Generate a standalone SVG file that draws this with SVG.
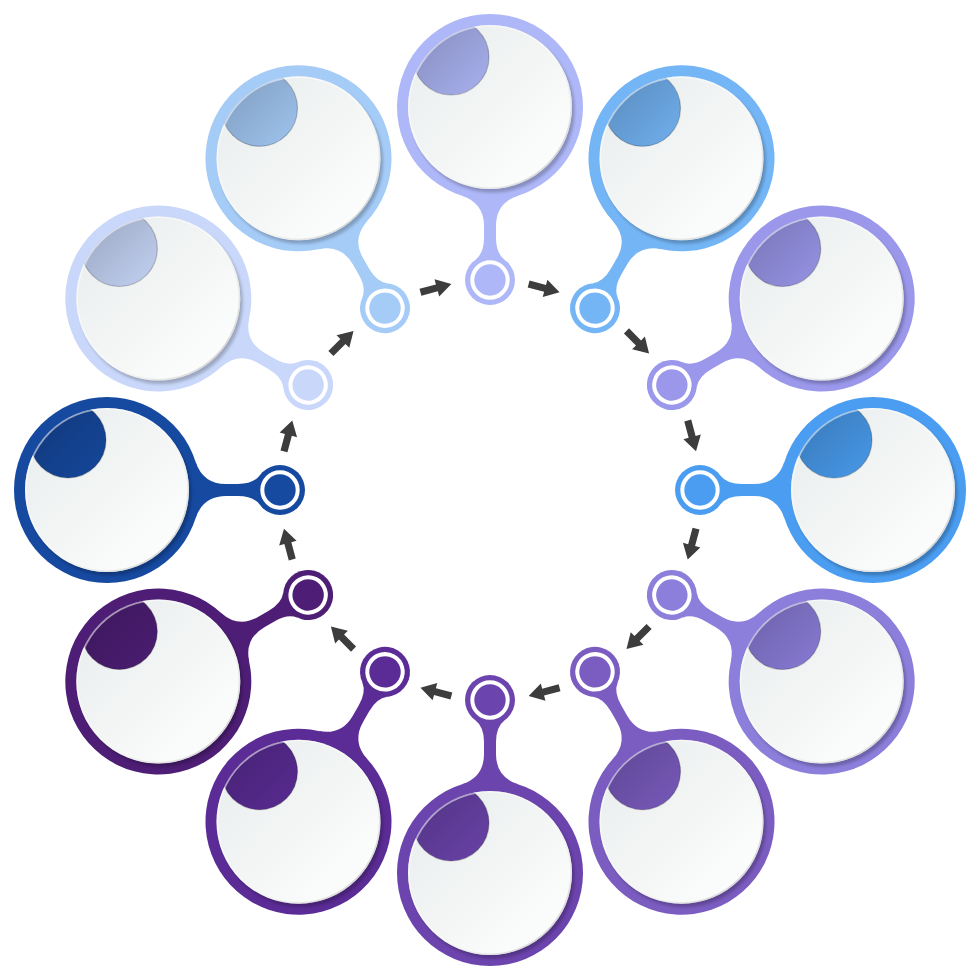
<svg xmlns="http://www.w3.org/2000/svg" xmlns:xlink="http://www.w3.org/1999/xlink" width="980" height="980" viewBox="0 0 980 980">
<style>
  .arrow { fill: #3d3d3d; }
  .ring-white { fill: none; stroke: #ffffff; stroke-width: 4; }
  .face { fill: url(#wg); }
  .shadow { fill: #000000; opacity: 0.22; filter: url(#blur); }
  .shade { fill: url(#capShade); stroke: #000000; stroke-opacity: 0.22; stroke-width: 1.2; }
  .rim { fill: none; stroke: url(#rim); stroke-width: 1.6; }
</style>
<defs>
  <linearGradient id="wg" x1="0" y1="0" x2="1" y2="1">
    <stop offset="0" stop-color="#e8ecec"/>
    <stop offset="1" stop-color="#ffffff"/>
  </linearGradient>
  <linearGradient id="capShade" x1="0" y1="0" x2="1" y2="1">
    <stop offset="0" stop-color="#000000" stop-opacity="0.25"/>
    <stop offset="1" stop-color="#000000" stop-opacity="0.03"/>
  </linearGradient>
  <linearGradient id="rim" x1="0" y1="0" x2="1" y2="1">
    <stop offset="0" stop-color="#ffffff" stop-opacity="0.6"/>
    <stop offset="0.5" stop-color="#ffffff" stop-opacity="0.4"/>
    <stop offset="1" stop-color="#b9b9b9" stop-opacity="0.9"/>
  </linearGradient>
  <filter id="blur" x="-20%" y="-20%" width="140%" height="140%">
    <feGaussianBlur stdDeviation="1.6"/>
  </filter>
  <clipPath id="cc">
    <circle cx="0" cy="0" r="82"/>
  </clipPath>
  <g id="body">
    <circle cx="0" cy="-383" r="93"/>
    <path d="M -28,-294.3 Q -6,-287 -6,-264 L -6,-252 Q -6,-237 -14.3,-230.5 L 14.3,-230.5 Q 6,-237 6,-252 L 6,-264 Q 6,-287 28,-294.3 Z"/>
    <circle cx="0" cy="-210" r="25"/>
    <circle class="ring-white" cx="0" cy="-210" r="17.7"/>
  </g>
  <g id="face">
    <circle class="shadow" cx="2.5" cy="3.5" r="82"/>
    <circle class="face" cx="0" cy="0" r="82"/>
  </g>
  <path id="arr" d="M -16,-3.6 L 1,-3.6 L 1,-9 L 16,0 L 1,9 L 1,3.6 L -16,3.6 Z"/>
</defs>

<g id="connectors">
  <use xlink:href="#arr" class="arrow" transform="translate(490 490) rotate(15) translate(0 -209)"/>
  <use xlink:href="#arr" class="arrow" transform="translate(490 490) rotate(45) translate(0 -209)"/>
  <use xlink:href="#arr" class="arrow" transform="translate(490 490) rotate(75) translate(0 -209)"/>
  <use xlink:href="#arr" class="arrow" transform="translate(490 490) rotate(105) translate(0 -209)"/>
  <use xlink:href="#arr" class="arrow" transform="translate(490 490) rotate(135) translate(0 -209)"/>
  <use xlink:href="#arr" class="arrow" transform="translate(490 490) rotate(165) translate(0 -209)"/>
  <use xlink:href="#arr" class="arrow" transform="translate(490 490) rotate(195) translate(0 -209)"/>
  <use xlink:href="#arr" class="arrow" transform="translate(490 490) rotate(225) translate(0 -209)"/>
  <use xlink:href="#arr" class="arrow" transform="translate(490 490) rotate(255) translate(0 -209)"/>
  <use xlink:href="#arr" class="arrow" transform="translate(490 490) rotate(285) translate(0 -209)"/>
  <use xlink:href="#arr" class="arrow" transform="translate(490 490) rotate(315) translate(0 -209)"/>
  <use xlink:href="#arr" class="arrow" transform="translate(490 490) rotate(345) translate(0 -209)"/>
</g>

<g id="node-1">
  <use xlink:href="#body" fill="#aeb7f7" transform="translate(490 490) rotate(0)"/>
  <g transform="translate(490 107)">
    <use xlink:href="#face"/>
    <g clip-path="url(#cc)"><circle cx="-39" cy="-50" r="38" fill="#aeb7f7"/><circle class="shade" cx="-39" cy="-50" r="38"/></g>
    <circle class="rim" r="81.2"/>
  </g>
</g>
<g id="node-2">
  <use xlink:href="#body" fill="#74b5f5" transform="translate(490 490) rotate(30)"/>
  <g transform="translate(681.5 158.3)">
    <use xlink:href="#face"/>
    <g clip-path="url(#cc)"><circle cx="-39" cy="-50" r="38" fill="#74b5f5"/><circle class="shade" cx="-39" cy="-50" r="38"/></g>
    <circle class="rim" r="81.2"/>
  </g>
</g>
<g id="node-3">
  <use xlink:href="#body" fill="#9b98ec" transform="translate(490 490) rotate(60)"/>
  <g transform="translate(821.7 298.5)">
    <use xlink:href="#face"/>
    <g clip-path="url(#cc)"><circle cx="-39" cy="-50" r="38" fill="#9b98ec"/><circle class="shade" cx="-39" cy="-50" r="38"/></g>
    <circle class="rim" r="81.2"/>
  </g>
</g>
<g id="node-4">
  <use xlink:href="#body" fill="#4a9df0" transform="translate(490 490) rotate(90)"/>
  <g transform="translate(873 490)">
    <use xlink:href="#face"/>
    <g clip-path="url(#cc)"><circle cx="-39" cy="-50" r="38" fill="#4a9df0"/><circle class="shade" cx="-39" cy="-50" r="38"/></g>
    <circle class="rim" r="81.2"/>
  </g>
</g>
<g id="node-5">
  <use xlink:href="#body" fill="#8c7edb" transform="translate(490 490) rotate(120)"/>
  <g transform="translate(821.7 681.5)">
    <use xlink:href="#face"/>
    <g clip-path="url(#cc)"><circle cx="-39" cy="-50" r="38" fill="#8c7edb"/><circle class="shade" cx="-39" cy="-50" r="38"/></g>
    <circle class="rim" r="81.2"/>
  </g>
</g>
<g id="node-6">
  <use xlink:href="#body" fill="#7b5cc0" transform="translate(490 490) rotate(150)"/>
  <g transform="translate(681.5 821.7)">
    <use xlink:href="#face"/>
    <g clip-path="url(#cc)"><circle cx="-39" cy="-50" r="38" fill="#7b5cc0"/><circle class="shade" cx="-39" cy="-50" r="38"/></g>
    <circle class="rim" r="81.2"/>
  </g>
</g>
<g id="node-7">
  <use xlink:href="#body" fill="#6c44ad" transform="translate(490 490) rotate(180)"/>
  <g transform="translate(490 873)">
    <use xlink:href="#face"/>
    <g clip-path="url(#cc)"><circle cx="-39" cy="-50" r="38" fill="#6c44ad"/><circle class="shade" cx="-39" cy="-50" r="38"/></g>
    <circle class="rim" r="81.2"/>
  </g>
</g>
<g id="node-8">
  <use xlink:href="#body" fill="#5b2c96" transform="translate(490 490) rotate(210)"/>
  <g transform="translate(298.5 821.7)">
    <use xlink:href="#face"/>
    <g clip-path="url(#cc)"><circle cx="-39" cy="-50" r="38" fill="#5b2c96"/><circle class="shade" cx="-39" cy="-50" r="38"/></g>
    <circle class="rim" r="81.2"/>
  </g>
</g>
<g id="node-9">
  <use xlink:href="#body" fill="#4e1e76" transform="translate(490 490) rotate(240)"/>
  <g transform="translate(158.3 681.5)">
    <use xlink:href="#face"/>
    <g clip-path="url(#cc)"><circle cx="-39" cy="-50" r="38" fill="#4e1e76"/><circle class="shade" cx="-39" cy="-50" r="38"/></g>
    <circle class="rim" r="81.2"/>
  </g>
</g>
<g id="node-10">
  <use xlink:href="#body" fill="#1649a0" transform="translate(490 490) rotate(270)"/>
  <g transform="translate(107 490)">
    <use xlink:href="#face"/>
    <g clip-path="url(#cc)"><circle cx="-39" cy="-50" r="38" fill="#1649a0"/><circle class="shade" cx="-39" cy="-50" r="38"/></g>
    <circle class="rim" r="81.2"/>
  </g>
</g>
<g id="node-11">
  <use xlink:href="#body" fill="#c9d8fa" transform="translate(490 490) rotate(300)"/>
  <g transform="translate(158.3 298.5)">
    <use xlink:href="#face"/>
    <g clip-path="url(#cc)"><circle cx="-39" cy="-50" r="38" fill="#c9d8fa"/><circle class="shade" cx="-39" cy="-50" r="38"/></g>
    <circle class="rim" r="81.2"/>
  </g>
</g>
<g id="node-12">
  <use xlink:href="#body" fill="#a5cbf7" transform="translate(490 490) rotate(330)"/>
  <g transform="translate(298.5 158.3)">
    <use xlink:href="#face"/>
    <g clip-path="url(#cc)"><circle cx="-39" cy="-50" r="38" fill="#a5cbf7"/><circle class="shade" cx="-39" cy="-50" r="38"/></g>
    <circle class="rim" r="81.2"/>
  </g>
</g>
</svg>
